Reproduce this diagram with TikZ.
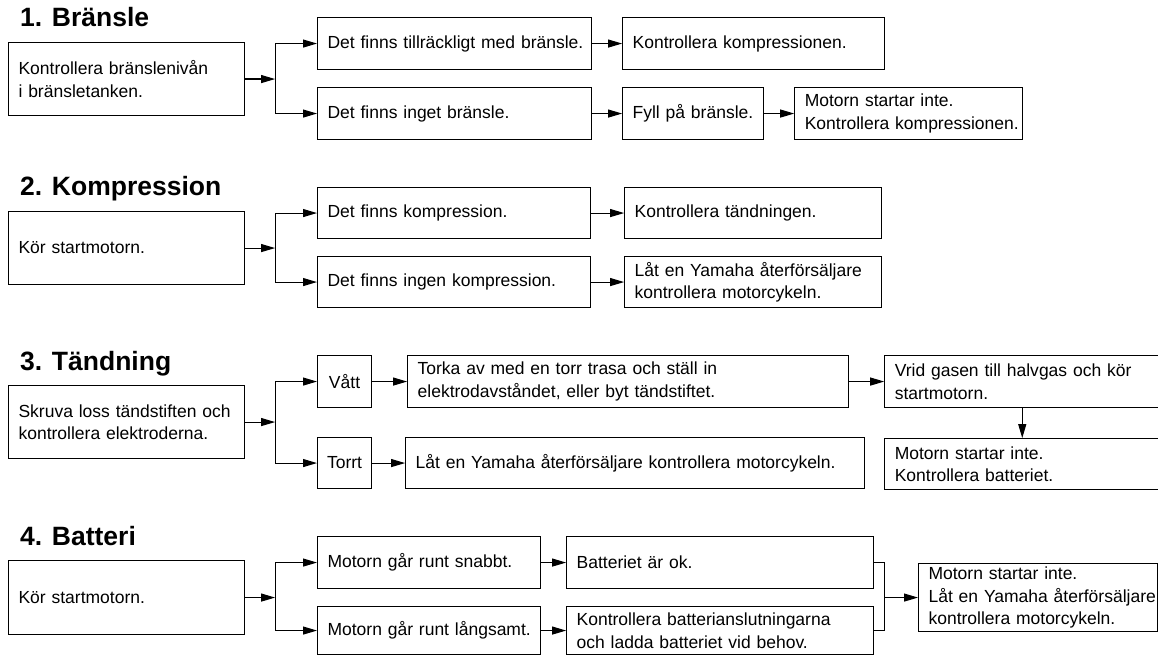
\documentclass[tikz,border=0pt]{standalone}
\usepackage{fontspec}
\setmainfont{Liberation Sans}
\usepackage{tikz}
\usetikzlibrary{positioning,arrows.meta}

\begin{document}
\begin{tikzpicture}[x=1pt,y=-1pt,line width=1.1pt,
    box/.style 2 args={draw, anchor=north west, minimum height=#2,
      text width=#1, inner xsep=0pt, inner ysep=2pt, align=left,
      execute at begin node={\leftskip=10pt},
      font=\fontsize{17.5}{22.5}\selectfont},
    smallbox/.style={draw, anchor=north west, minimum width=54pt,
      minimum height=#1, inner sep=2pt, font=\fontsize{17.5}{22.5}\selectfont},
    title/.style={anchor=base west, inner sep=0pt,
      font=\fontsize{26.5}{30}\selectfont\bfseries},
    arr/.style={-{Triangle[length=14pt,width=8pt]}}]
  \useasboundingbox (0,0) rectangle (1158,655);

  % 1. Bränsle
  \node[title] (t1) at (19.5,27) {1. Bränsle};
  \node[box={236pt}{73pt}] (a1) at (8,42) {Kontrollera bränslenivån\\i bränsletanken.};
  \node[box={274pt}{52pt}] (b1) at (317,17) {Det finns tillräckligt med bränsle.};
  \node[box={262pt}{52pt}, right=30pt of b1] (c1) {Kontrollera kompressionen.};
  \node[box={274pt}{52pt}] (d1) at (317,87) {Det finns inget bränsle.};
  \node[box={141pt}{52pt}, right=30pt of d1] (e1) {Fyll på bränsle.};
  \node[box={228pt}{52pt}, right=30pt of e1] (f1) {Motorn startar inte.\\Kontrollera kompressionen.};
  \coordinate[right=30pt of a1] (k1);

  \draw[arr] (a1) -- (k1);
  \draw[arr] (k1) |- (b1);
  \draw[arr] (k1) |- (d1);
  \draw[arr] (b1) -- (c1);
  \draw[arr] (d1) -- (e1);
  \draw[arr] (e1) -- (f1);

  % 2. Kompression
  \node[title] (t2) at (19.5,195) {2. Kompression};
  \node[box={236pt}{73pt}] (a2) at (8,211) {Kör startmotorn.};
  \node[box={273pt}{51pt}] (b2) at (317,187) {Det finns kompression.};
  \node[box={257pt}{51pt}, right=33pt of b2] (c2) {Kontrollera tändningen.};
  \node[box={273pt}{51pt}] (d2) at (317,256) {Det finns ingen kompression.};
  \node[box={257pt}{51pt}, right=33pt of d2] (e2) {Låt en Yamaha återförsäljare\\kontrollera motorcykeln.};
  \coordinate[right=30pt of a2] (k2);

  \draw[arr] (a2) -- (k2);
  \draw[arr] (k2) |- (b2);
  \draw[arr] (k2) |- (d2);
  \draw[arr] (b2) -- (c2);
  \draw[arr] (d2) -- (e2);

  % 3. Tändning
  \node[title] (t3) at (19.5,370) {3. Tändning};
  \node[box={236pt}{73pt}] (a3) at (8,385) {Skruva loss tändstiften och\\kontrollera elektroderna.};
  \node[smallbox=52pt] (vatt) at (317,355) {Vått};
  \node[box={441pt}{52pt}, right=35pt of vatt] (torka) {Torka av med en torr trasa och ställ in\\elektrodavståndet, eller byt tändstiftet.};
  \node[box={275pt}{52pt}, right=35pt of torka] (vrid) {Vrid gasen till halvgas och kör\\startmotorn.};
  \node[box={275pt}{51pt}, below=30pt of vrid] (inte3) {Motorn startar inte.\\Kontrollera batteriet.};
  \node[smallbox=51pt] (torrt) at (317,437) {Torrt};
  \node[box={459pt}{51pt}, right=33pt of torrt] (lat3) {Låt en Yamaha återförsäljare kontrollera motorcykeln.};
  \coordinate[right=30pt of a3] (k3);

  \draw[arr] (a3) -- (k3);
  \draw[arr] (k3) |- (vatt);
  \draw[arr] (k3) |- (torrt);
  \draw[arr] (vatt) -- (torka);
  \draw[arr] (torka) -- (vrid);
  \draw[arr] (vrid) -- (inte3);
  \draw[arr] (torrt) -- (lat3);

  % 4. Batteri
  \node[title] (t4) at (19.5,545) {4. Batteri};
  \node[box={236pt}{74pt}] (a4) at (8,560) {Kör startmotorn.};
  \node[box={223pt}{52pt}] (b4) at (317,536) {Motorn går runt snabbt.};
  \node[box={307pt}{52pt}, right=25pt of b4] (c4) {Batteriet är ok.};
  \node[box={223pt}{48pt}] (d4) at (317,606) {Motorn går runt långsamt.};
  \node[box={307pt}{48pt}, right=25pt of d4] (e4) {Kontrollera batterianslutningarna\\och ladda batteriet vid behov.};
  \node[box={239pt}{68pt}] (g4) at (918,563) {Motorn startar inte.\\Låt en Yamaha återförsäljare\\kontrollera motorcykeln.};
  \coordinate[right=30pt of a4] (k4);
  \coordinate (m4) at ([xshift=10pt]c4.east |- g4.west);

  \draw[arr] (a4) -- (k4);
  \draw[arr] (k4) |- (b4);
  \draw[arr] (k4) |- (d4);
  \draw[arr] (b4) -- (c4);
  \draw[arr] (d4) -- (e4);
  \draw (c4) -| (m4) |- (e4);
  \draw[arr] (m4) -- (g4);
\end{tikzpicture}
\end{document}
